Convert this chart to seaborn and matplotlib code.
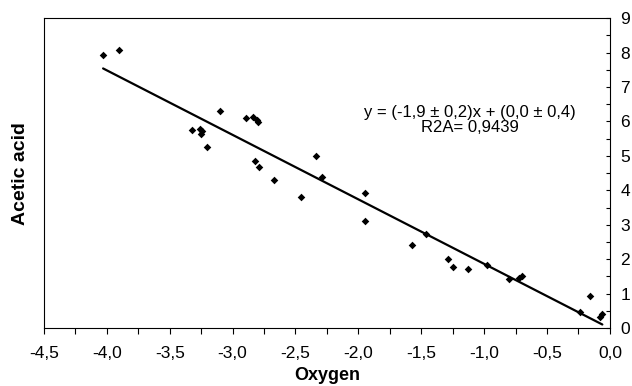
import matplotlib
matplotlib.use("Agg")
import matplotlib.pyplot as plt
import seaborn as sns
import numpy as np
import pandas as pd
from matplotlib.ticker import MultipleLocator, FuncFormatter

oxygen = [-4.03, -3.90, -3.32, -3.26, -3.24, -3.25, -3.20, -3.10, -2.89, -2.84,
          -2.81, -2.80, -2.82, -2.79, -2.67, -2.46, -2.34, -2.29, -1.95, -1.95,
          -1.57, -1.46, -1.29, -1.25, -1.13, -0.98, -0.80, -0.72, -0.70, -0.24,
          -0.16, -0.08, -0.06]
acetic = [7.94, 8.08, 5.76, 5.78, 5.72, 5.63, 5.27, 6.31, 6.10, 6.12,
          6.04, 5.98, 4.85, 4.69, 4.29, 3.80, 5.00, 4.38, 3.93, 3.11,
          2.40, 2.73, 2.01, 1.77, 1.73, 1.83, 1.42, 1.45, 1.50, 0.47,
          0.92, 0.33, 0.41]
equation = "y = (-1,9 \u00b1 0,2)x + (0,0 \u00b1 0,4)\nR2A= 0,9439"

df = pd.DataFrame({"Oxygen": oxygen, "Acetic acid": acetic})

sns.set_style("ticks")
plt.rcParams["font.family"] = ["Liberation Sans", "DejaVu Sans"]
plt.rcParams["text.color"] = "black"
plt.rcParams["axes.labelcolor"] = "black"

fig = plt.figure(figsize=(6.32, 3.86), dpi=100)
ax = fig.add_axes([0.0696, 0.150, 0.8954, 0.803])

sns.regplot(data=df, x="Oxygen", y="Acetic acid", ax=ax, ci=None, truncate=True,
            marker="D", scatter_kws={"s": 15, "color": "black", "linewidths": 0, "alpha": 1},
            line_kws={"color": "black", "linewidth": 1.6})

ax.set_xlim(-4.5, 0.0)
ax.set_ylim(0, 9)

comma = FuncFormatter(lambda v, p: f"{v:.1f}".replace(".", ","))
ax.xaxis.set_major_locator(MultipleLocator(0.5))
ax.xaxis.set_minor_locator(MultipleLocator(0.25))
ax.xaxis.set_major_formatter(comma)
ax.yaxis.set_major_locator(MultipleLocator(1))
ax.yaxis.set_minor_locator(MultipleLocator(0.5))
ax.yaxis.set_major_formatter(FuncFormatter(lambda v, p: f"{v:.0f}"))

ax.yaxis.tick_right()
ax.tick_params(axis="x", which="both", direction="out", length=4, width=0.8,
               labelsize=12.5, pad=9, colors="black")
ax.tick_params(axis="y", which="both", direction="in", length=3, width=0.8,
               labelsize=12.5, pad=7.5, left=False, right=True, colors="black")

for s in ax.spines.values():
    s.set_visible(True)
    s.set_linewidth(0.8)
    s.set_color("black")

ax.set_xlabel("Oxygen", fontsize=13, fontweight="bold", labelpad=4)
ax.yaxis.set_label_position("left")
ax.set_ylabel("Acetic acid", fontsize=14, fontweight="bold", labelpad=11)

ax.text(0.753, 0.671, equation, transform=ax.transAxes, ha="center", va="center",
        fontsize=12, linespacing=1.05)

fig.savefig("out.png", dpi=100)
